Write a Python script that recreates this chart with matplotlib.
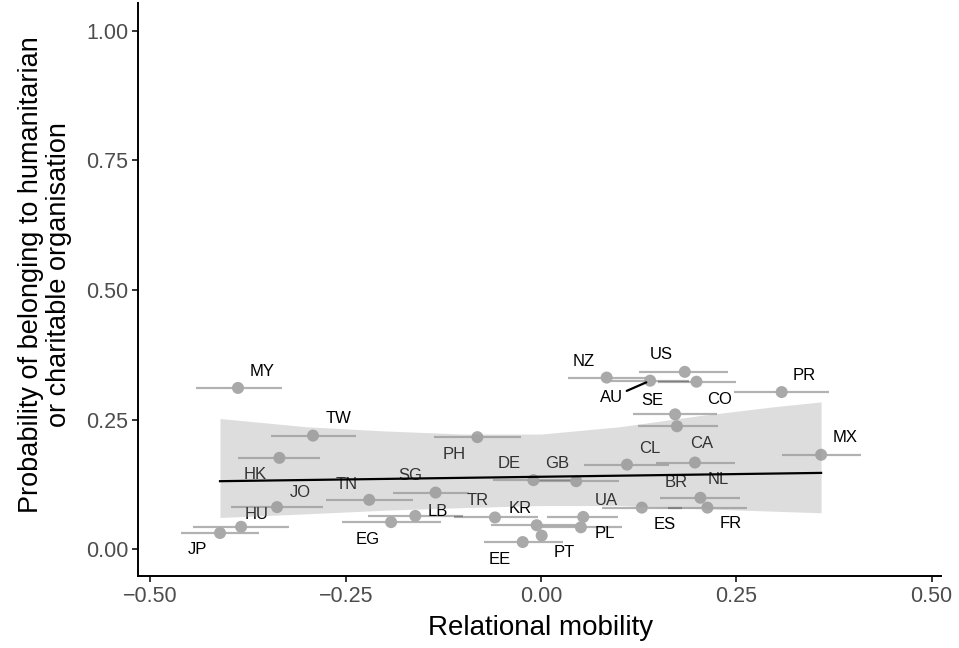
import matplotlib
matplotlib.use("Agg")
import matplotlib.pyplot as plt
import numpy as np

plt.rcParams['font.family'] = ['Liberation Sans', 'DejaVu Sans']

# ---------------- data ----------------
countries = ["MY", "TW", "HK", "JO", "HU", "JP", "TN", "EG", "SG", "LB",
             "PH", "TR", "KR", "DE", "GB", "EE", "PT", "PL", "UA", "ES",
             "CL", "CA", "SE", "BR", "NL", "FR", "CO", "AU", "US", "NZ",
             "PR", "MX"]
mobility = [-0.388, -0.292, -0.335, -0.338, -0.384, -0.411, -0.220, -0.192, -0.135, -0.161,
            -0.0815, -0.059, -0.0056, -0.0098, 0.045, -0.0235, 0.0008, 0.051, 0.054, 0.129,
            0.110, 0.197, 0.1716, 0.174, 0.204, 0.213, 0.199, 0.1396, 0.184, 0.084,
            0.308, 0.3585]
mobility_lo = [-0.442, -0.346, -0.388, -0.397, -0.445, -0.461, -0.275, -0.255, -0.190, -0.221,
               -0.137, -0.112, -0.064, -0.062, -0.005, -0.073, 0.0008, 0.000, 0.008, 0.078,
               0.055, 0.147, 0.118, 0.124, 0.152, 0.163, 0.150, 0.090, 0.126, 0.034,
               0.247, 0.308]
mobility_hi = [-0.332, -0.237, -0.283, -0.279, -0.323, -0.361, -0.164, -0.128, -0.092, -0.100,
               -0.026, -0.004, 0.055, 0.045, 0.100, 0.028, 0.0008, 0.104, 0.099, 0.181,
               0.164, 0.248, 0.225, 0.227, 0.255, 0.264, 0.249, 0.190, 0.239, 0.134,
               0.368, 0.409]
probability = [0.311, 0.219, 0.176, 0.081, 0.043, 0.031, 0.095, 0.052, 0.109, 0.064,
               0.216, 0.061, 0.046, 0.133, 0.131, 0.0135, 0.026, 0.042, 0.062, 0.080,
               0.163, 0.167, 0.260, 0.237, 0.099, 0.080, 0.323, 0.325, 0.342, 0.331,
               0.303, 0.182]

# fitted line and confidence band
fit_x = [-0.411, -0.30, -0.20, -0.10, 0.00, 0.10, 0.20, 0.30, 0.3585]
fit_lo = [0.061, 0.068, 0.075, 0.080, 0.084, 0.084, 0.078, 0.073, 0.070]
fit_hi = [0.252, 0.236, 0.228, 0.222, 0.222, 0.236, 0.257, 0.275, 0.284]
fit_line_x = [-0.411, 0.3585]
fit_line_y = [0.131, 0.147]

x_ticks = [-0.50, -0.25, 0.00, 0.25, 0.50]
y_ticks = [0.00, 0.25, 0.50, 0.75, 1.00]

# label offsets (pixels, relative to the point) - style only
label_offsets = {
    "MY": (24, 16), "TW": (26, 17), "HK": (-24, -17), "JO": (23, 15), "HU": (16, 12),
    "JP": (-23, -17), "TN": (-23, 15), "EG": (-23, -17), "SG": (-25, 17), "LB": (23, 4),
    "PH": (-23, -17), "TR": (-17, 17), "KR": (-17, 17), "DE": (-24, 17), "GB": (-19, 18),
    "EE": (-23, -17), "PT": (23, -17), "PL": (24, -6), "UA": (23, 16), "ES": (23, -17),
    "CL": (23, 16), "CA": (7, 19), "SE": (-23, 14), "BR": (-1, -56), "NL": (18, 18),
    "FR": (23, -16), "CO": (23, -18), "AU": (-39, -17), "US": (-24, 17), "NZ": (-23, 16),
    "PR": (23, 17), "MX": (24, 17),
}

# ---------------- figure ----------------
W, H = 959, 648
fig = plt.figure(figsize=(W / 100, H / 100), dpi=100)
ax = fig.add_axes([138 / W, 72 / H, (941 - 138) / W, (645 - 72) / H])

# error bars
ax.hlines(probability, mobility_lo, mobility_hi, colors="black", alpha=0.30,
          linewidth=1.6, zorder=1)
# points
ax.scatter(mobility, probability, s=75, color="#A9A9A9", edgecolors="none", zorder=2)

# labels
for c, xv, yv in zip(countries, mobility, probability):
    dx, dy = label_offsets[c]
    if c == "AU":
        ax.annotate(c, (xv, yv), xytext=(dx, dy), textcoords="offset pixels",
                    ha="center", va="center", fontsize=12, color="black", zorder=3,
                    arrowprops=dict(arrowstyle="-", color="black", lw=1.6,
                                    shrinkA=1, shrinkB=3))
    else:
        ax.annotate(c, (xv, yv), xytext=(dx, dy), textcoords="offset pixels",
                    ha="center", va="center", fontsize=12, color="black", zorder=3)

# confidence band and fitted line
ax.fill_between(fit_x, fit_lo, fit_hi, color="#999999", alpha=0.33, linewidth=0, zorder=4)
ax.plot(fit_line_x, fit_line_y, color="black", linewidth=1.6, zorder=5)

ax.set_xlim(-0.516, 0.512)
ax.set_ylim(-0.052, 1.054)
ax.set_xticks(x_ticks)
ax.set_xticklabels([f"{v:.2f}".replace("-", "\u2212") for v in x_ticks])
ax.set_yticks(y_ticks)
ax.set_yticklabels([f"{v:.2f}" for v in y_ticks])

for s in ["top", "right"]:
    ax.spines[s].set_visible(False)
for s in ["left", "bottom"]:
    ax.spines[s].set_linewidth(1.4)
    ax.spines[s].set_color("black")
ax.tick_params(axis="both", length=4, width=1.1, color="black",
               labelsize=15.5, labelcolor="#4D4D4D", pad=3)

fig.text(541 / W, 1 - 628 / H, "Relational mobility", ha="center", va="center",
         fontsize=20, color="black")
fig.text(45 / W, 1 - 275 / H,
         "Probability of belonging to humanitarian\nor charitable organisation",
         ha="center", va="center", rotation=90, fontsize=19.5, color="black",
         multialignment="center", linespacing=1.08)

fig.savefig("out.png", dpi=100)
